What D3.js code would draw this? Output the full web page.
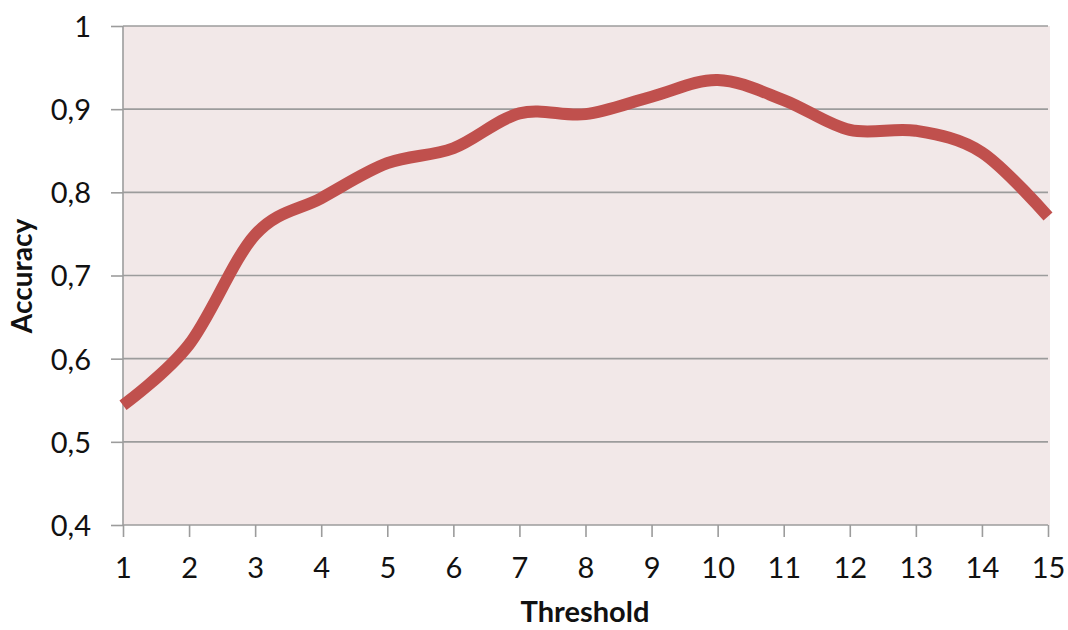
<!DOCTYPE html>
<html>
<head>
<meta charset="utf-8">
<script src="https://cdn.jsdelivr.net/npm/d3@7"></script>
<style>
  html, body { margin: 0; padding: 0; background: #ffffff; }
  svg { display: block; }
  text { font-family: Lato, "Open Sans", sans-serif; fill: #111; }
</style>
</head>
<body>
<svg id="chart" width="1068" height="630"></svg>
<script>
// Accuracy for each threshold value
const thresholds = [1, 2, 3, 4, 5, 6, 7, 8, 9, 10, 11, 12, 13, 14, 15];
const accuracy = [0.544, 0.617, 0.749, 0.793, 0.835, 0.853, 0.895, 0.894, 0.915, 0.935, 0.911, 0.875, 0.874, 0.848, 0.771];
const yTicks = [0.4, 0.5, 0.6, 0.7, 0.8, 0.9, 1];
const yTickLabels = ["0,4", "0,5", "0,6", "0,7", "0,8", "0,9", "1"];

const svg = d3.select("#chart");
const plot = { left: 123, right: 1048, top: 26, bottom: 525 };

const x = d3.scaleLinear().domain([1, 15]).range([plot.left, plot.right]);
const y = d3.scaleLinear().domain([0.4, 1]).range([plot.bottom, plot.top]);

// plot background
svg.append("rect")
  .attr("x", plot.left).attr("y", plot.top)
  .attr("width", plot.right - plot.left + 2).attr("height", plot.bottom - plot.top)
  .attr("fill", "#f2e8e8");

const gridColor = "#9c9c9c";

// horizontal gridlines
svg.append("g")
  .selectAll("line")
  .data(yTicks.filter(d => d > 0.4))
  .join("line")
  .attr("x1", plot.left).attr("x2", plot.right)
  .attr("y1", d => y(d)).attr("y2", d => y(d))
  .attr("stroke", gridColor).attr("stroke-width", 1.6);

// y axis
const yAxis = d3.axisLeft(y)
  .tickValues(yTicks)
  .tickFormat((d, i) => yTickLabels[i])
  .tickSize(12)
  .tickPadding(20);
const gy = svg.append("g").attr("transform", `translate(${plot.left},0)`).call(yAxis);
gy.select(".domain").attr("stroke", gridColor).attr("stroke-width", 1.6)
  .attr("d", `M0,${plot.top}V${plot.bottom}`);
gy.selectAll(".tick line").attr("stroke", gridColor).attr("stroke-width", 1.6);
gy.selectAll(".tick text")
  .attr("font-family", "Lato, sans-serif")
  .attr("font-size", 29).attr("fill", "#111")
  .attr("dy", "0.36em");

// x axis
const xAxis = d3.axisBottom(x)
  .tickValues(thresholds)
  .tickFormat(d3.format("d"))
  .tickSize(12)
  .tickPadding(20);
const gx = svg.append("g").attr("transform", `translate(0,${plot.bottom})`).call(xAxis);
gx.select(".domain").attr("stroke", gridColor).attr("stroke-width", 1.6)
  .attr("d", `M${plot.left},0H${plot.right}`);
gx.selectAll(".tick line").attr("stroke", gridColor).attr("stroke-width", 1.6);
gx.selectAll(".tick text")
  .attr("font-family", "Lato, sans-serif")
  .attr("font-size", 29).attr("fill", "#111");

// smoothed accuracy line
const line = d3.line()
  .x((d, i) => x(thresholds[i]))
  .y(d => y(d))
  .curve(d3.curveCardinal.tension(0));

svg.append("path")
  .datum(accuracy)
  .attr("d", line)
  .attr("fill", "none")
  .attr("stroke", "#c0504d")
  .attr("stroke-width", 12)
  .attr("stroke-linejoin", "round");

// axis titles
svg.append("text")
  .attr("x", 585).attr("y", 622)
  .attr("text-anchor", "middle")
  .attr("font-weight", "bold")
  .attr("font-size", 29)
  .text("Threshold");

svg.append("text")
  .attr("transform", "translate(32,276) rotate(-90)")
  .attr("text-anchor", "middle")
  .attr("font-weight", "bold")
  .attr("font-size", 28)
  .text("Accuracy");
</script>
</body>
</html>
